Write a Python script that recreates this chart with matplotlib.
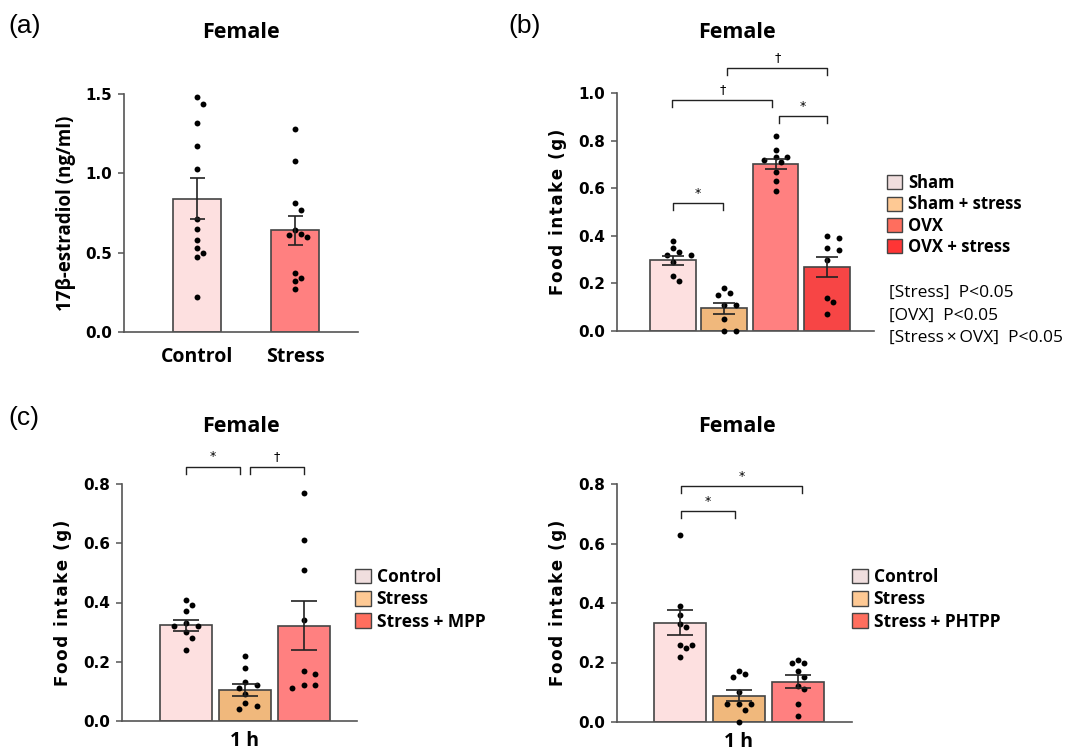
import matplotlib
matplotlib.use("Agg")
import matplotlib.pyplot as plt
import numpy as np
from matplotlib.patches import Patch
from matplotlib.ticker import FormatStrFormatter

W, H, DPI = 1068, 756, 100

# ---- data ----
# (a) plasma 17b-estradiol
a_groups = ["Control", "Stress"]
a_mean = [0.84, 0.64]
a_sem = [0.13, 0.09]
a_points = [
    [1.48, 1.44, 1.32, 1.17, 1.03, 0.71, 0.65, 0.58, 0.53, 0.50, 0.47, 0.22],
    [1.28, 1.08, 0.81, 0.77, 0.64, 0.62, 0.61, 0.60, 0.37, 0.34, 0.32, 0.27],
]

# (b) sham / OVX food intake
b_groups = ["Sham", "Sham + stress", "OVX", "OVX + stress"]
b_mean = [0.298, 0.096, 0.702, 0.268]
b_sem = [0.019, 0.023, 0.021, 0.042]
b_points = [
    [0.38, 0.35, 0.33, 0.32, 0.32, 0.29, 0.23, 0.21],
    [0.18, 0.16, 0.15, 0.11, 0.11, 0.05, 0.0, 0.0],
    [0.82, 0.76, 0.73, 0.73, 0.72, 0.71, 0.67, 0.63, 0.59],
    [0.40, 0.39, 0.35, 0.34, 0.30, 0.14, 0.12, 0.07],
]
b_stats = ["[Stress]  P<0.05", "[OVX]  P<0.05", "[Stress\u2009\u00d7\u2009OVX]  P<0.05"]

# (c) left: MPP
c1_groups = ["Control", "Stress", "Stress + MPP"]
c1_mean = [0.323, 0.106, 0.321]
c1_sem = [0.018, 0.020, 0.083]
c1_points = [
    [0.41, 0.39, 0.37, 0.33, 0.32, 0.32, 0.30, 0.28, 0.24],
    [0.22, 0.18, 0.13, 0.12, 0.11, 0.09, 0.06, 0.05, 0.04],
    [0.77, 0.61, 0.51, 0.34, 0.17, 0.16, 0.12, 0.12, 0.11],
]

# (c) right: PHTPP
c2_groups = ["Control", "Stress", "Stress + PHTPP"]
c2_mean = [0.334, 0.089, 0.135]
c2_sem = [0.041, 0.020, 0.022]
c2_points = [
    [0.63, 0.39, 0.36, 0.33, 0.32, 0.26, 0.26, 0.25, 0.22],
    [0.17, 0.16, 0.15, 0.10, 0.06, 0.06, 0.06, 0.04, 0.0],
    [0.21, 0.20, 0.20, 0.17, 0.15, 0.12, 0.11, 0.06, 0.02],
]

PINK, ORANGE, SALMON, RED = "#fde0e0", "#f0b87c", "#ff8080", "#f74545"
LEG_COLORS = ["#f0dede", "#fec994", "#ff6e5e", "#ff3535"]
EDGE = "#444444"
SANS = ["Open Sans", "DejaVu Sans"]
DV = "DejaVu Sans"
YLAB = "\u200a".join("Food intake (g)")

fig = plt.figure(figsize=(W / DPI, H / DPI), dpi=DPI)


def px_axes(left, top, right, bottom):
    return fig.add_axes([left / W, 1 - bottom / H, (right - left) / W, (bottom - top) / H])


def style(ax, ymax, step):
    for s in ["top", "right"]:
        ax.spines[s].set_visible(False)
    for s in ["left", "bottom"]:
        ax.spines[s].set_color("#555555")
        ax.spines[s].set_linewidth(1.2)
    ax.set_ylim(0, ymax)
    ax.set_yticks(np.arange(0, ymax + 1e-9, step))
    ax.yaxis.set_major_formatter(FormatStrFormatter("%.1f"))
    ax.tick_params(axis="y", direction="out", length=4.5, width=1.1, color="#555555", pad=4)
    ax.tick_params(axis="x", length=0)
    for lab in ax.get_yticklabels():
        lab.set_fontfamily(DV)
        lab.set_fontweight("bold")
        lab.set_fontsize(11)


def swarm(ax, x0, vals, diam=7.0):
    placed = []
    inv = ax.transData.inverted()
    for v in vals:
        cx, cy = ax.transData.transform((x0, v))
        for k in [0, 1, -1, 2, -2, 3, -3]:
            px = cx + k * diam * 0.85
            if all((px - qx) ** 2 + (cy - qy) ** 2 >= (diam * 0.95) ** 2 for qx, qy in placed):
                break
        placed.append((px, cy))
    xy = inv.transform(placed)
    ax.scatter(xy[:, 0], xy[:, 1], s=18, color="black", zorder=3, clip_on=False, linewidths=0)


def bars(ax, means, sems, points, colors, width, capsize):
    x = np.arange(len(means))
    ax.bar(x, means, width=width, color=colors, edgecolor=EDGE, linewidth=1.2, zorder=2)
    for i, p in enumerate(points):
        swarm(ax, i, p)
    ax.errorbar(x, means, yerr=sems, fmt="none", ecolor="#222222", elinewidth=1.2,
                capsize=capsize, capthick=1.2, zorder=4)


def bracket(ax, x1, x2, y, leg, sym, size=9):
    ax.plot([x1, x1, x2, x2], [y - leg, y, y, y - leg], color="#222222", lw=1.0, clip_on=False)
    dy = leg * 0.45 if sym == "*" else leg * 0.55
    ax.text((x1 + x2) / 2, y + dy, sym, ha="center", va="bottom", fontsize=size, family=DV)


def female(x, y):
    fig.text(x / W, 1 - y / H, "Female", ha="center", va="center", fontsize=15.5,
             fontweight="bold", family=SANS)


def legend(handles_colors, labels, x, y, size, spacing):
    fig.legend(handles=[Patch(facecolor=c, edgecolor=EDGE, linewidth=1.0) for c in handles_colors],
               labels=labels, loc="upper left", bbox_to_anchor=(x / W, 1 - y / H),
               frameon=False, handlelength=0.9, handleheight=0.9, handletextpad=0.35,
               labelspacing=spacing, borderpad=0, borderaxespad=0,
               prop=dict(family=SANS, weight="bold", size=size))


# ---- (a) ----
axa = px_axes(124, 94, 358, 332)
axa.set_xlim(-0.745, 1.643)
style(axa, 1.5, 0.5)
bars(axa, a_mean, a_sem, a_points, [PINK, SALMON], 0.49, 5.4)
axa.set_xticks([0, 1])
axa.set_xticklabels(a_groups, family=SANS, fontweight="bold", fontsize=14)
axa.tick_params(axis="x", pad=11)
axa.set_ylabel("17\u03b2-estradiol (ng/ml)", family=SANS, fontweight="bold", fontsize=13.5, labelpad=7)
female(241, 33)

# ---- (b) ----
axb = px_axes(617, 93, 874, 331)
axb.set_xlim(-1.09, 3.92)
style(axb, 1.0, 0.2)
bars(axb, b_mean, b_sem, b_points, [PINK, ORANGE, SALMON, RED], 0.89, 8)
axb.set_xticks([])
axb.set_ylabel(YLAB, family=DV, fontweight="bold", fontsize=12, labelpad=8)
bracket(axb, 0.01, 0.97, 0.537, 0.029, "*")
bracket(axb, -0.01, 1.94, 0.972, 0.029, "\u2020")
bracket(axb, 2.06, 3.0, 0.903, 0.029, "*")
bracket(axb, 1.06, 3.01, 1.105, 0.029, "\u2020")
female(737, 33)
legend(LEG_COLORS, b_groups, 887, 174, 12, 0.2)
for i, s in enumerate(b_stats):
    fig.text(889 / W, 1 - (293 + 22.5 * i) / H, s, ha="left", va="center", fontsize=12.5,
             family=SANS)

# ---- (c) left ----
axc1 = px_axes(122, 484, 357, 721)
axc1.set_xlim(-1.09, 2.91)
style(axc1, 0.8, 0.2)
bars(axc1, c1_mean, c1_sem, c1_points, [PINK, ORANGE, SALMON], 0.885, 9.4)
axc1.set_xticks([1])
axc1.set_xticklabels(["1 h"], family=SANS, fontweight="bold", fontsize=14)
axc1.tick_params(axis="x", pad=7)
axc1.set_ylabel(YLAB, family=DV, fontweight="bold", fontsize=12, labelpad=8)
bracket(axc1, 0.0, 0.915, 0.859, 0.024, "*")
bracket(axc1, 1.085, 2.0, 0.859, 0.024, "\u2020")
female(241, 426)
legend(LEG_COLORS[:3], c1_groups, 355, 568, 12.5, 0.25)

# ---- (c) right ----
axc2 = px_axes(617, 484, 852, 722)
axc2.set_xlim(-1.07, 2.92)
style(axc2, 0.8, 0.2)
bars(axc2, c2_mean, c2_sem, c2_points, [PINK, ORANGE, SALMON], 0.88, 9.5)
axc2.set_xticks([1])
axc2.set_xticklabels(["1 h"], family=SANS, fontweight="bold", fontsize=14)
axc2.tick_params(axis="x", pad=7)
axc2.set_ylabel(YLAB, family=DV, fontweight="bold", fontsize=12, labelpad=8)
bracket(axc2, 0.02, 0.93, 0.708, 0.023, "*")
bracket(axc2, 0.02, 2.07, 0.792, 0.023, "*")
female(737, 426)
legend(LEG_COLORS[:3], c2_groups, 852, 568, 12.5, 0.25)

# panel letters
for txt, x, y in [("(a)", 8, 26), ("(b)", 508, 26), ("(c)", 8, 418)]:
    fig.text(x / W, 1 - y / H, txt, ha="left", va="center", fontsize=19,
             family="Liberation Sans")

fig.savefig("out.png", dpi=DPI)
